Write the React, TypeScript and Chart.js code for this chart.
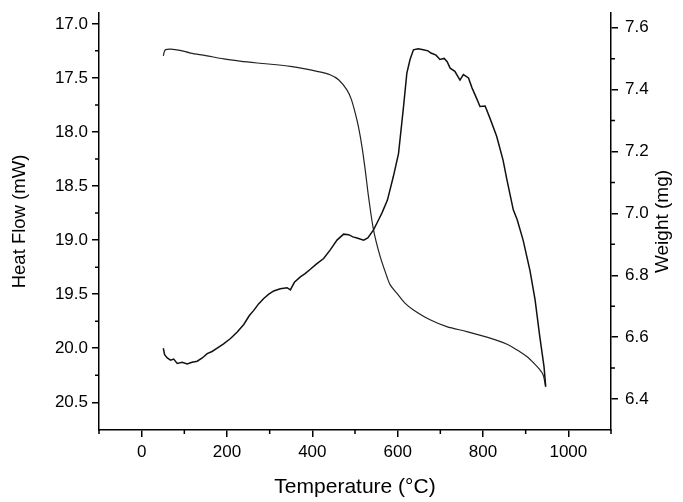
import { useEffect, useRef } from "react";
import { Chart, registerables } from "chart.js";

Chart.register(...registerables);

// Heat flow (DSC) curve – left axis (reversed)
const heatTemp = [
  50.7, 53.8, 60, 67.8, 75, 83.4, 95, 106.8, 118, 130.2, 142, 153.6, 165, 177, 192,
  208.2, 224, 239.3, 252, 262.7, 274, 286.1, 298, 309.5, 325, 340.8, 348.5, 358,
  371.9, 383, 395.3, 410, 426.5, 442, 457.8, 473.4, 485, 495, 504.6, 512, 520.2,
  530, 543.4, 553, 563, 576, 590, 602, 613.6, 621.5, 629, 637, 648, 660, 671, 678,
  690, 699, 709, 716, 723, 734, 746, 754, 766, 774, 784, 793, 805, 816, 832, 847,
  856, 871, 880, 894, 910, 922, 933, 943, 947,
];
const heatFlow = [
  20.0, 20.06, 20.09, 20.11, 20.1, 20.14, 20.13, 20.145, 20.13, 20.12, 20.09, 20.05,
  20.03, 20.0, 19.96, 19.91, 19.85, 19.78, 19.7, 19.65, 19.59, 19.54, 19.5, 19.47,
  19.45, 19.44, 19.46, 19.39, 19.34, 19.31, 19.27, 19.22, 19.17, 19.09, 19.0, 18.945,
  18.95, 18.97, 18.98, 18.99, 19.0, 18.98, 18.905, 18.83, 18.75, 18.63, 18.41, 18.2,
  17.77, 17.456, 17.33, 17.24, 17.23, 17.24, 17.25, 17.27, 17.29, 17.33, 17.32, 17.35,
  17.41, 17.44, 17.52, 17.47, 17.5, 17.59, 17.68, 17.765, 17.76, 17.87, 18.04, 18.26,
  18.44, 18.72, 18.81, 19.0, 19.28, 19.55, 19.89, 20.17, 20.355,
];

// Weight (TGA) curve – right axis
const weightTemp = [
  50.8, 53, 56, 67.8, 90, 114.6, 150, 192.5, 230, 270.6, 310, 348.5, 380, 411, 441.5,
  461.5, 481, 491, 500.6, 508, 516.3, 524, 531.7, 543.4, 559.1, 574.7, 582.5, 598.1,
  617, 637, 676, 715, 762, 809, 855, 886.5, 905, 917.7, 930, 941.1, 946.7,
];
const weightMg = [
  7.509, 7.522, 7.529, 7.531, 7.527, 7.518, 7.51, 7.499, 7.492, 7.486, 7.481, 7.475,
  7.468, 7.459, 7.448, 7.432, 7.399, 7.37, 7.324, 7.28, 7.216, 7.14, 7.054, 6.947,
  6.86, 6.796, 6.769, 6.742, 6.71, 6.688, 6.656, 6.634, 6.618, 6.6, 6.578, 6.553,
  6.535, 6.518, 6.5, 6.478, 6.44,
];

const tempTicks = [0, 200, 400, 600, 800, 1000];
const tempMinor = [-100, 100, 300, 500, 700, 900, 1100];
const heatTicks = [17.0, 17.5, 18.0, 18.5, 19.0, 19.5, 20.0, 20.5];
const heatMinor = [17.25, 17.75, 18.25, 18.75, 19.25, 19.75, 20.25];
const weightTicks = [6.4, 6.6, 6.8, 7.0, 7.2, 7.4, 7.6];
const weightMinor = [6.5, 6.7, 6.9, 7.1, 7.3, 7.5];

const xTitle = "Temperature (°C)";
const leftTitle = "Heat Flow (mW)";
const rightTitle = "Weight (mg)";

const FONT = "'Liberation Sans', Arial, sans-serif";

const minorTickPlugin = {
  id: "minorTicks",
  afterDraw(chart: any) {
    const { ctx, chartArea, scales } = chart;
    ctx.save();
    ctx.strokeStyle = "#000";
    ctx.lineWidth = 1.5;
    ctx.beginPath();
    tempMinor.forEach((v) => {
      const px = scales.x.getPixelForValue(v);
      ctx.moveTo(px, chartArea.bottom);
      ctx.lineTo(px, chartArea.bottom + 4);
    });
    heatMinor.forEach((v) => {
      const py = scales.yL.getPixelForValue(v);
      ctx.moveTo(chartArea.left, py);
      ctx.lineTo(chartArea.left - 4, py);
    });
    weightMinor.forEach((v) => {
      const py = scales.yR.getPixelForValue(v);
      ctx.moveTo(chartArea.right, py);
      ctx.lineTo(chartArea.right + 4, py);
    });
    ctx.stroke();

    // right-axis title, reading bottom-to-top like the left one
    ctx.fillStyle = "#000";
    ctx.font = `19px ${FONT}`;
    ctx.textAlign = "center";
    ctx.textBaseline = "middle";
    ctx.translate(chartArea.right + 52, (chartArea.top + chartArea.bottom) / 2);
    ctx.rotate(-Math.PI / 2);
    ctx.fillText(rightTitle, 0, 0);
    ctx.restore();
  },
};

function axisCommon(tickValues: number[], digits: number | null, padding: number) {
  return {
    type: "linear" as const,
    afterBuildTicks: (s: any) => {
      s.ticks = tickValues.map((v) => ({ value: v }));
    },
    grid: {
      display: true,
      drawOnChartArea: false,
      drawTicks: true,
      tickLength: 7,
      color: "#000",
      lineWidth: 1.5,
    },
    border: { display: true, color: "#000", width: 1.5 },
    ticks: {
      color: "#000",
      font: { family: FONT, size: 17 },
      padding,
      autoSkip: false,
      maxRotation: 0,
      callback: (v: any) => (digits === null ? String(v) : Number(v).toFixed(digits)),
    },
  };
}

export default function App() {
  const ref = useRef<HTMLCanvasElement | null>(null);

  useEffect(() => {
    if (!ref.current) return;
    const chart = new Chart(ref.current, {
      type: "line",
      data: {
        datasets: [
          {
            label: "Heat Flow",
            data: heatTemp.map((t, i) => ({ x: t, y: heatFlow[i] })),
            yAxisID: "yL",
            borderColor: "#111",
            borderWidth: 1.5,
            pointRadius: 0,
            tension: 0,
            fill: false,
          },
          {
            label: "Weight",
            data: weightTemp.map((t, i) => ({ x: t, y: weightMg[i] })),
            yAxisID: "yR",
            borderColor: "#222",
            borderWidth: 1.2,
            pointRadius: 0,
            tension: 0.3,
            fill: false,
          },
        ],
      },
      options: {
        responsive: false,
        animation: false,
        devicePixelRatio: 1,
        layout: { padding: { top: 13, left: 0, right: 0, bottom: 0 } },
        plugins: { legend: { display: false }, tooltip: { enabled: false } },
        scales: {
          x: {
            ...axisCommon(tempTicks, null, 5),
            position: "bottom",
            min: -100,
            max: 1100,
            afterFit: (s: any) => {
              s.height = 72;
              s.paddingLeft = 0;
              s.paddingRight = 0;
            },
            title: {
              display: true,
              text: xTitle,
              color: "#000",
              font: { family: FONT, size: 21 },
              padding: { top: 0, bottom: 2 },
            },
          },
          yL: {
            ...axisCommon(heatTicks, 1, 4),
            position: "left",
            reverse: true,
            min: 16.9,
            max: 20.756,
            afterFit: (s: any) => {
              s.width = 99;
              s.paddingTop = 0;
              s.paddingBottom = 0;
            },
            title: {
              display: true,
              text: leftTitle,
              color: "#000",
              font: { family: FONT, size: 18.5 },
              padding: { top: 9, bottom: 0 },
            },
          },
          yR: {
            ...axisCommon(weightTicks, 1, 7),
            position: "right",
            min: 6.3,
            max: 7.6475,
            afterFit: (s: any) => {
              s.width = 72;
              s.paddingTop = 0;
              s.paddingBottom = 0;
            },
            title: { display: false },
          },
        },
      } as any,
      plugins: [minorTickPlugin],
    });
    return () => chart.destroy();
  }, []);

  return (
    <div
      style={{
        position: "fixed",
        left: 0,
        top: 0,
        width: 683,
        height: 502,
        background: "#fff",
      }}
    >
      <canvas ref={ref} width={683} height={502} style={{ display: "block" }} />
    </div>
  );
}
